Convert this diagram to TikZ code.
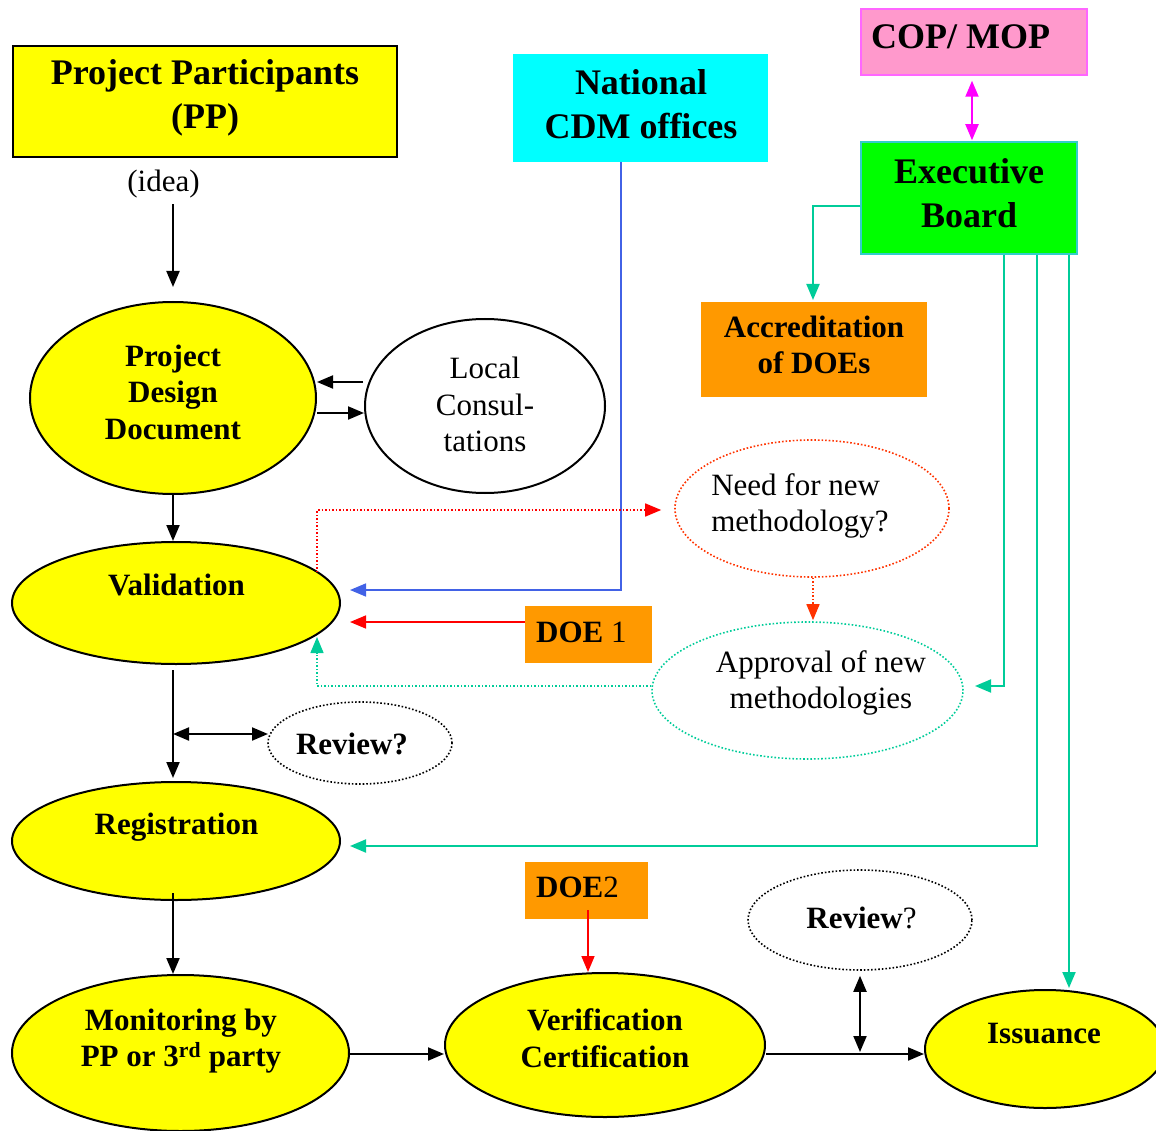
\documentclass[tikz,border=0pt]{standalone}
\usepackage{fontspec}
\setmainfont{Liberation Serif}
\usetikzlibrary{arrows.meta,shapes.geometric,calc}
\definecolor{cyel}{HTML}{FFFF00}
\definecolor{ccyan}{HTML}{00FFFF}
\definecolor{cpink}{HTML}{FF99CC}
\definecolor{cpinkb}{HTML}{FF66FF}
\definecolor{cgreen}{HTML}{00FF00}
\definecolor{cgreenb}{HTML}{33CCCC}
\definecolor{corange}{HTML}{FF9900}
\definecolor{cteal}{HTML}{00CC99}
\definecolor{cblue}{HTML}{4262E6}
\definecolor{cred}{HTML}{FF0000}
\definecolor{credor}{HTML}{FF3300}
\definecolor{cmag}{HTML}{FF00FF}
\newcommand{\bigfont}{\fontsize{36}{44}\selectfont\bfseries}
\newcommand{\midfont}{\fontsize{31}{36.5}\selectfont}
\tikzset{
  tip/.tip={Triangle[length=16pt,width=13pt]},
  arr/.style={-tip, line width=2pt},
  darr/.style={tip-tip, line width=2pt},
  yell/.style={ellipse, draw=black, line width=2pt, fill=cyel, inner sep=0pt},
  dotell/.style={ellipse, line width=1.6pt, dash pattern=on 1.6pt off 2pt, inner sep=0pt},
  plainbox/.style={rectangle, inner sep=0pt},
  bigtxt/.style={font=\bigfont, align=center, inner sep=0pt},
  midtxt/.style={font=\midfont, align=center, inner sep=0pt},
  midbold/.style={font=\midfont\bfseries, align=center, inner sep=0pt},
}
\begin{document}
\begin{tikzpicture}[x=1pt,y=-1pt]
\useasboundingbox (0,0) rectangle (1156,1131);

% ---------- boxes ----------
\node[plainbox, draw=black, line width=2pt, fill=cyel, minimum width=384pt, minimum height=111pt] (pp) at (205,101.5) {};
\node[bigtxt] (ppt) at (205,98) {Project Participants\\(PP)};
\node[midtxt] (idea) at (163.5,184) {(idea)};

\node[plainbox, fill=ccyan, minimum width=255pt, minimum height=108pt] (ncdm) at (640.5,108) {};
\node[bigtxt] (ncdmt) at (641,104) {National\\CDM offices};

\node[plainbox, draw=cpinkb, line width=1.5pt, fill=cpink, minimum width=226pt, minimum height=66pt] (cop) at (974,42) {};
\node[bigtxt, anchor=west] (copt) at (871,37) {COP/ MOP};

\node[plainbox, draw=cgreenb, line width=1.5pt, fill=cgreen, minimum width=216pt, minimum height=112pt] (eb) at (969,198) {};
\node[bigtxt] (ebt) at (969,193) {Executive\\Board};

\node[plainbox, fill=corange, minimum width=226pt, minimum height=95pt] (acc) at (814,349.5) {};
\node[midbold] (acct) at (814,345) {Accreditation\\of DOEs};

\node[plainbox, fill=corange, minimum width=127pt, minimum height=57pt] (doe1) at (588.5,634.5) {};
\node[midtxt, anchor=west] (doe1t) at (536,632) {\textbf{DOE} 1};

\node[plainbox, fill=corange, minimum width=123pt, minimum height=57pt] (doe2) at (586.5,890.5) {};
\node[midtxt, anchor=west] (doe2t) at (536,887) {\textbf{DOE}2};

% ---------- ellipses ----------
\node[yell, minimum width=286pt, minimum height=192pt] (pdd) at (173,398) {};
\node[midbold] (pddt) at (173,392) {Project\\Design\\Document};

\node[ellipse, draw=black, line width=2pt, fill=white, inner sep=0pt, minimum width=240pt, minimum height=174pt] (lc) at (485,406) {};
\node[midtxt] (lct) at (485,404.5) {Local\\Consul-\\tations};

\node[yell, minimum width=328pt, minimum height=122pt] (val) at (176,603) {};
\node[midbold] (valt) at (176.5,585) {Validation};

\node[dotell, draw=credor, minimum width=274pt, minimum height=137pt] (need) at (812,508.5) {};
\node[midtxt, align=left] (needt) at (800,506) {Need for new\\methodology?};

\node[dotell, draw=cteal, minimum width=311pt, minimum height=137pt] (appr) at (807.5,690.5) {};
\node[midtxt] (apprt) at (821,683) {Approval of new\\methodologies};

\node[dotell, draw=black, minimum width=184pt, minimum height=82pt] (rev1) at (360,743) {};
\node[midbold] (rev1t) at (352,744) {Review?};

\node[yell, minimum width=328pt, minimum height=118pt] (reg) at (176,841) {};
\node[midbold] (regt) at (176.5,827) {Registration};

\node[yell, minimum width=337pt, minimum height=156pt] (mon) at (180.5,1053) {};
\node[midbold] (mont) at (181,1041) {Monitoring by\\PP or 3\textsuperscript{rd} party};

\node[yell, minimum width=320pt, minimum height=144pt] (ver) at (605,1045) {};
\node[midbold] (vert) at (605,1038) {Verification\\Certification};

\node[dotell, draw=black, minimum width=224pt, minimum height=100pt] (rev2) at (860,920) {};
\node[midtxt] (rev2t) at (861.5,918) {\textbf{Review}?};

\node[yell, minimum width=240pt, minimum height=118pt] (iss) at (1045,1049) {};
\node[midbold] (isst) at (1044,1034) {Issuance};

% ---------- helper coordinates ----------
\coordinate (x173) at (173,0);
\coordinate (y382) at (0,382);
\coordinate (y413) at (0,413);
\coordinate (x621) at (621,0);
\coordinate (vblue) at (350,590);
\coordinate (vred) at (350,622);
\coordinate (vdot) at (317,572);
\coordinate (vteal) at (317,637);
\coordinate (vbot) at (173,670);
\coordinate (regtop) at (173,778);
\coordinate (mid734) at (173,734);
\coordinate (rv1) at (268,734);
\coordinate (regbot) at (173,893);
\coordinate (y1054) at (0,1054);
\coordinate (x588) at (588,0);
\coordinate (mid860) at (860,1052);
\coordinate (x813) at (813,300);
\coordinate (x1004) at (1004,0);
\coordinate (x1037) at (1037,0);
\coordinate (x1069) at (1069,0);
\coordinate (apprR) at (975,686);
\coordinate (regR) at (350,846);
\coordinate (issT) at (1069,988);
\coordinate (ideaA) at (173,287);

% ---------- connectors ----------
\draw[arr] (idea.south -| x173) ++(0,6) -- (ideaA);
\draw[arr] (lc.west |- y382) ++(-1,0) -- (pdd.east |- y382);
\draw[arr] (pdd.east |- y413) -- (lc.west |- y413);
\draw[arr] (pdd.south -| x173) -- (val.north -| x173);
\draw[arr] (vbot) -- (regtop);
\draw[darr] (mid734) -- (rv1);
\draw[arr] (regbot) -- (mon.north -| x173);
\draw[arr] (mon.east |- y1054) -- (ver.west |- y1054);
\draw[arr] (ver.east |- y1054) -- (iss.west |- y1054);
\draw[darr] (rev2.south) ++(0,5) -- (mid860);

% blue from National CDM offices
\draw[cblue, arr, line width=1.6pt] (ncdm.south -| x621) |- (vblue);
% red from DOE 1
\draw[cred, arr, line width=1.6pt] (doe1.west |- vred) -- (vred);
% red from DOE2
\draw[cred, arr, line width=1.6pt] (doe2.south -| x588) ++(0,-9) -- (ver.north -| x588);
% dotted red to Need
\draw[cred, line width=1.5pt, dash pattern=on 1.5pt off 2pt, -tip] (vdot) |- ($(need.west)+(-13,1.5)$);
% dotted to Approval
\draw[credor, line width=1.5pt, dash pattern=on 1.5pt off 2pt, -tip] (need.south -| x813) -- ($(appr.north -| x813)+(0,-1)$);
% dotted teal back to Validation
\draw[cteal, line width=1.5pt, dash pattern=on 1.5pt off 2pt, -tip] (appr.west |- apprR) -| (vteal);

% COP <-> EB
\draw[cmag, darr] ($(cop.south)+(-2,5)$) -- ($(eb.north)+(3,-1)$);
% EB lines
\draw[cteal, arr] ($(eb.west)+(0,8)$) -| (x813);
\draw[cteal, arr] (eb.south -| x1004) |- (apprR);
\draw[cteal, arr] (eb.south -| x1037) |- (regR);
\draw[cteal, arr] (eb.south -| x1069) -- (issT);
\end{tikzpicture}
\end{document}
